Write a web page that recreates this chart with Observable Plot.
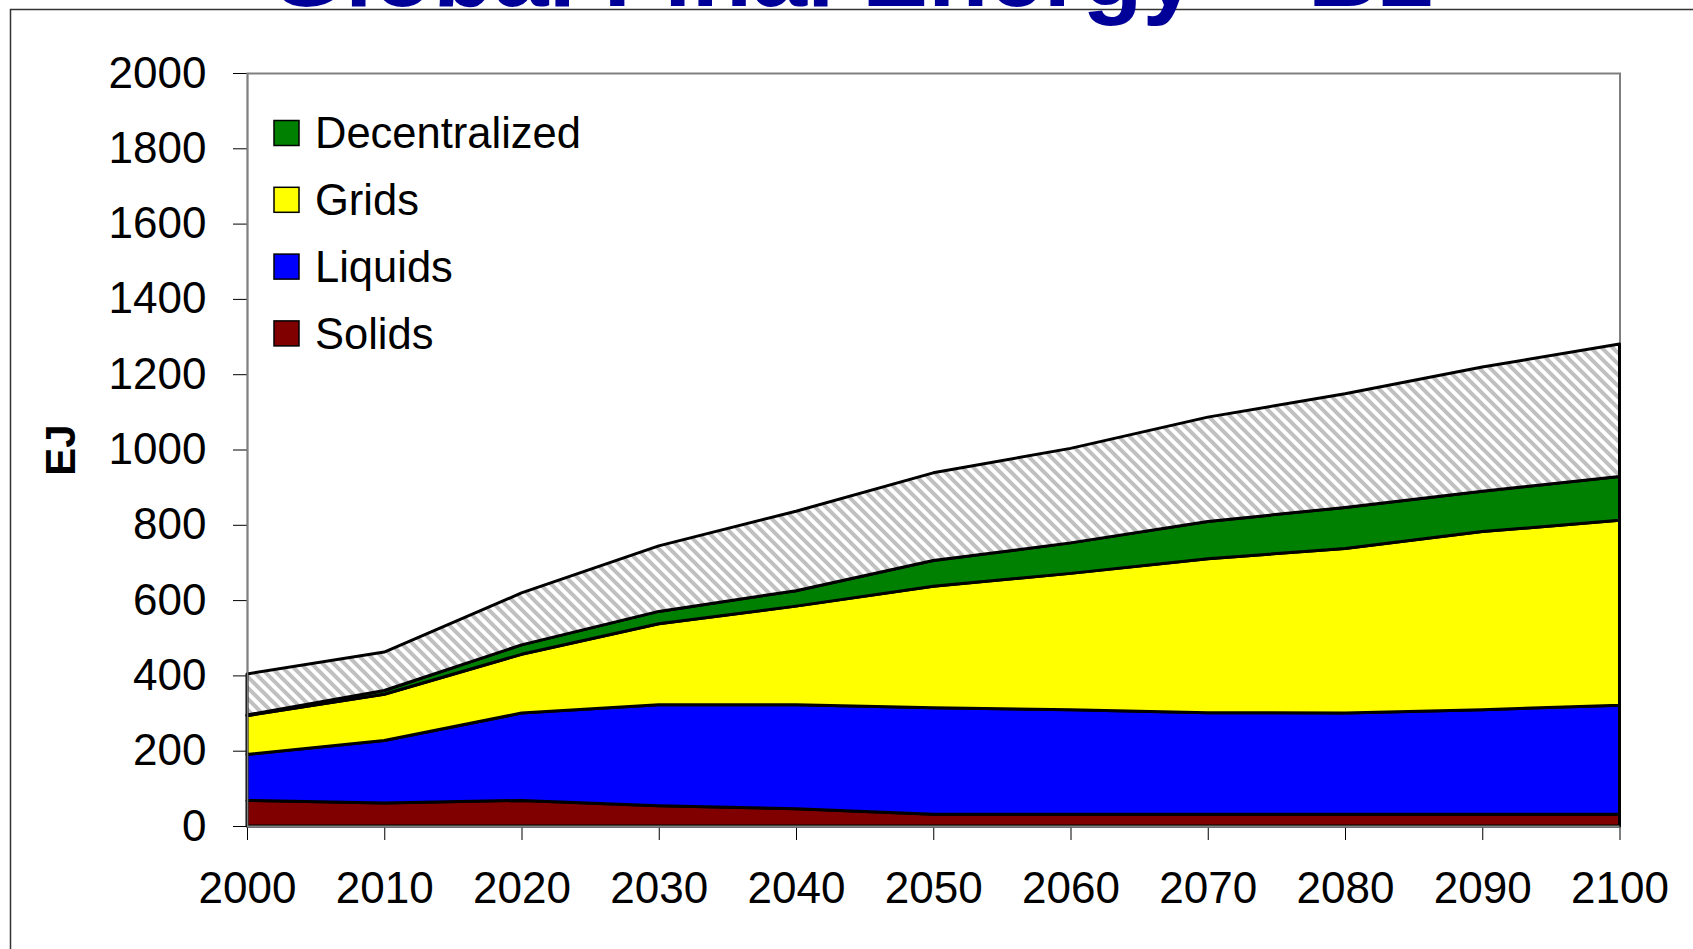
<!DOCTYPE html>
<html>
<head>
<meta charset="utf-8">
<script src="https://cdn.jsdelivr.net/npm/d3@7"></script>
<script src="https://cdn.jsdelivr.net/npm/@observablehq/plot@0.6"></script>
<style>
  html, body { margin: 0; padding: 0; background: #fff; }
  #page { position: relative; width: 1693px; height: 949px; overflow: hidden; background: #fff; }
  #page > svg { position: absolute; left: 0; top: 0; }
</style>
</head>
<body>
<div id="page"></div>
<script>
// Global final energy by carrier, EJ per decade
const years = [2000, 2010, 2020, 2030, 2040, 2050, 2060, 2070, 2080, 2090, 2100];
const solids        = [68, 61, 68, 54, 46, 31, 31, 31, 31, 31, 31];
const liquids       = [122, 166, 232, 268, 276, 283, 278, 270, 269, 278, 290];
const grids         = [103, 123, 156, 215, 262, 323, 362, 409, 437, 473, 491];
const decentralized = [2, 10, 25, 33, 41, 68, 81, 99, 109, 107, 116];
const other         = [109, 102, 138, 174, 211, 233, 251, 277, 302, 330, 352];

const seriesNames  = ["Solids", "Liquids", "Grids", "Decentralized", "Other"];
const seriesColors = ["#800000", "#0000ff", "#ffff00", "#008000", "url(#hatch)"];
const legendNames  = ["Decentralized", "Grids", "Liquids", "Solids"];
const yTicks = [0, 200, 400, 600, 800, 1000, 1200, 1400, 1600, 1800, 2000];
const titleText = "Global Final Energy \u2013 B2";
const yLabel = "EJ";

const FONT = "'Liberation Sans', Arial, Helvetica, sans-serif";

const valuesBySeries = {
  Solids: solids,
  Liquids: liquids,
  Grids: grids,
  Decentralized: decentralized,
  Other: other
};
const colorBySeries = Object.fromEntries(seriesNames.map((s, i) => [s, seriesColors[i]]));

const rows = seriesNames.flatMap(series =>
  years.map((year, i) => ({year, series, value: valuesBySeries[series][i]}))
);

const chart = Plot.plot({
  width: 1693,
  height: 949,
  marginLeft: 247,
  marginRight: 73.5,
  marginTop: 73,
  marginBottom: 123,
  style: {
    fontFamily: FONT,
    fontSize: "44px",
    color: "#000",
    background: "transparent",
    overflow: "visible"
  },
  x: {
    domain: [2000, 2100],
    ticks: years,
    tickFormat: d3.format("d"),
    tickSize: 14,
    tickPadding: 31,
    label: null
  },
  y: {
    domain: [0, 2000],
    ticks: yTicks,
    tickFormat: d3.format("d"),
    tickSize: 14,
    tickPadding: 27,
    label: null
  },
  color: {domain: seriesNames, range: seriesColors},
  marks: [
    Plot.frame({stroke: "#808080", strokeWidth: 2}),
    Plot.areaY(rows, {
      x: "year",
      y: "value",
      z: "series",
      fill: "series",
      order: seriesNames,
      stroke: "#000",
      strokeWidth: 3,
      strokeLinejoin: "round"
    }),
    Plot.ruleY([0], {stroke: "#808080", strokeWidth: 2}),
    Plot.ruleX([2000], {stroke: "#808080", strokeWidth: 1.5}),
    Plot.text([yLabel], {
      text: d => d,
      frameAnchor: "left",
      textAnchor: "middle",
      lineAnchor: "middle",
      dx: -186,
      rotate: -90,
      fontWeight: "bold",
      fontSize: 42
    })
  ]
});

// diagonal hatch used by the unlabeled remainder band
d3.select(chart).insert("defs", ":first-child").html(`
  <pattern id="hatch" patternUnits="userSpaceOnUse" width="11" height="11">
    <rect width="11" height="11" fill="#ffffff"></rect>
    <path d="M0,0 L11,11 M-4,7 L4,15 M7,-4 L15,4" stroke="#c0c0c0" stroke-width="4"></path>
  </pattern>`);

const page = document.getElementById("page");
page.appendChild(chart);

// slide frame, title and legend drawn over the chart
const overlay = d3.select(page).append("svg")
  .attr("width", 1693)
  .attr("height", 949)
  .style("pointer-events", "none")
  .style("font-family", FONT);

overlay.append("path")
  .attr("d", "M10.5,949 V9.5 H1693")
  .attr("fill", "none")
  .attr("stroke", "#333")
  .attr("stroke-width", 1.5);

overlay.append("text")
  .attr("x", 268)
  .attr("y", 6)
  .attr("font-size", 99)
  .attr("font-weight", "bold")
  .attr("fill", "#000099")
  .text(titleText);

const legend = overlay.append("g");
legendNames.forEach((name, i) => {
  const cy = 133 + i * 66.8;
  legend.append("rect")
    .attr("x", 274)
    .attr("y", cy - 12.5)
    .attr("width", 25)
    .attr("height", 25)
    .attr("fill", colorBySeries[name])
    .attr("stroke", "#000")
    .attr("stroke-width", 1.5);
  legend.append("text")
    .attr("x", 315)
    .attr("y", cy + 15.4)
    .attr("font-size", 43.5)
    .attr("fill", "#000")
    .text(name);
});
</script>
</body>
</html>
